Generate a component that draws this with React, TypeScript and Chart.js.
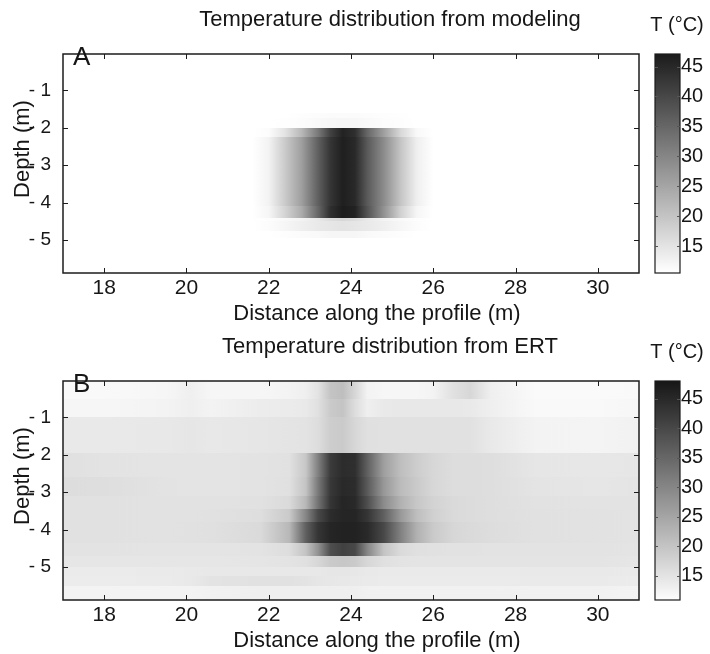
import React, { useEffect, useRef } from 'react';
import { Chart, registerables } from 'chart.js';

Chart.register(...registerables);

const FONT = "'Liberation Sans', Arial, Helvetica, sans-serif";

// ---- axis ticks / labels ----
const xTicks = [18, 20, 22, 24, 26, 28, 30];
const depthTicks = [-5, -4, -3, -2, -1];
const tempTicks = [15, 20, 25, 30, 35, 40, 45];

const titleA = 'Temperature distribution from modeling';
const titleB = 'Temperature distribution from ERT';
const xLabel = 'Distance along the profile (m)';
const yLabel = 'Depth (m)';
const cbLabel = 'T (°C)';

// colour map range (°C): white -> black
const CMAP_MIN = 10.5;
const CMAP_MAX = 47.5;

// ---- Panel A: modelled temperature ----
// column positions along the profile (m)
const colsA = [17, 21.6, 22.0, 22.4, 22.8, 23.2, 23.5, 23.8, 24.1, 24.4, 24.8, 25.2, 25.6, 26.0, 31];
// depth band edges (m)
const edgesA = [0, 1.6, 1.75, 2.0, 2.25, 4.1, 4.4, 4.5, 4.75, 4.95, 5.95];
// temperature (°C) per depth band, per column
const tempsA = [
  [10.5, 10.5, 10.5, 10.5, 10.5, 10.5, 10.5, 10.5, 10.5, 10.5, 10.5, 10.5, 10.5, 10.5, 10.5],
  [10.5, 10.5, 10.5, 10.5, 10.8, 11.0, 11.2, 11.2, 11.2, 11.0, 10.8, 10.6, 10.5, 10.5, 10.5],
  [10.5, 10.5, 10.5, 10.6, 11.0, 11.5, 11.8, 12.0, 11.8, 11.5, 11.0, 10.8, 10.5, 10.5, 10.5],
  [10.5, 10.5, 11.0, 15.0, 22.0, 32.0, 41.0, 46.0, 44.0, 35.0, 26.0, 17.0, 11.5, 10.5, 10.5],
  [10.5, 10.5, 12.5, 19.0, 26.0, 36.0, 43.0, 46.5, 45.0, 37.0, 29.0, 20.0, 13.0, 10.5, 10.5],
  [10.5, 10.5, 12.0, 17.5, 24.0, 35.0, 44.0, 47.0, 46.0, 38.0, 28.0, 18.0, 12.0, 10.5, 10.5],
  [10.5, 10.5, 10.8, 11.5, 12.5, 14.0, 16.0, 17.0, 16.0, 14.0, 12.5, 11.5, 10.8, 10.5, 10.5],
  [10.5, 10.5, 11.0, 12.0, 13.0, 14.0, 14.5, 15.0, 14.5, 14.0, 13.0, 12.0, 11.0, 10.5, 10.5],
  [10.5, 10.5, 10.5, 10.8, 11.2, 11.5, 12.0, 12.0, 12.0, 11.5, 11.2, 10.8, 10.5, 10.5, 10.5],
  [10.5, 10.5, 10.5, 10.5, 10.5, 10.5, 10.5, 10.5, 10.5, 10.5, 10.5, 10.5, 10.5, 10.5, 10.5],
];

// ---- Panel B: temperature from ERT ----
const colsB = [17, 18, 19.5, 20.1, 20.6, 21.8, 22.5, 22.9, 23.2, 23.5, 23.8, 24.1, 24.4, 24.8, 25.2, 25.6, 26.0, 26.5, 26.9, 27.4, 28.5, 30, 31];
const edgesB = [0, 0.5, 1.0, 1.95, 2.6, 3.1, 3.45, 3.8, 4.35, 4.7, 5.0, 5.25, 5.5, 5.95];
const tempsB = [
  [11.5, 11.5, 12.0, 13.0, 12.0, 12.0, 12.5, 13.0, 15.0, 20.0, 21.0, 17.0, 12.5, 12.0, 12.0, 12.0, 12.5, 15.5, 17.0, 13.0, 11.3, 11.3, 11.5],
  [12.0, 12.0, 12.5, 13.0, 12.5, 13.5, 13.7, 14.0, 15.5, 19.0, 20.0, 16.0, 13.0, 14.0, 14.2, 14.2, 14.2, 14.2, 14.0, 13.0, 11.5, 11.5, 12.0],
  [14.0, 14.0, 14.2, 14.5, 14.2, 14.5, 14.8, 15.0, 16.0, 18.5, 19.0, 17.0, 15.5, 15.3, 15.3, 15.3, 15.3, 15.3, 15.3, 14.0, 12.5, 12.3, 12.8],
  [15.5, 15.0, 14.8, 14.8, 14.8, 15.0, 15.3, 19.5, 31.0, 42.0, 44.5, 44.0, 36.0, 26.0, 21.0, 18.5, 17.0, 16.0, 16.0, 15.8, 14.5, 14.3, 14.5],
  [16.0, 15.8, 15.0, 14.8, 14.8, 15.0, 15.5, 20.0, 32.0, 42.5, 45.0, 44.5, 37.0, 27.0, 21.5, 19.0, 17.0, 16.0, 16.0, 15.8, 14.8, 14.5, 14.8],
  [15.3, 15.3, 15.2, 15.2, 15.2, 15.3, 16.5, 22.0, 33.0, 43.0, 45.5, 45.0, 39.0, 29.0, 23.0, 19.5, 17.5, 16.5, 16.2, 15.8, 15.2, 15.0, 15.0],
  [15.3, 15.3, 15.2, 15.2, 15.3, 15.8, 19.0, 30.0, 40.0, 44.5, 45.5, 45.5, 43.0, 36.0, 27.0, 21.0, 18.0, 16.5, 16.2, 15.8, 15.3, 15.2, 15.0],
  [15.3, 15.3, 15.2, 15.3, 15.5, 16.5, 22.0, 36.0, 43.0, 45.5, 46.0, 46.0, 45.0, 40.0, 31.0, 23.0, 19.0, 17.0, 16.5, 16.0, 15.3, 15.2, 15.0],
  [15.0, 15.0, 14.8, 14.8, 14.8, 15.0, 16.0, 20.0, 28.0, 39.0, 41.0, 40.0, 30.0, 20.0, 16.5, 15.5, 15.3, 15.2, 15.2, 15.0, 15.0, 15.0, 14.8],
  [14.5, 14.5, 14.5, 14.5, 14.5, 14.7, 15.0, 15.5, 17.0, 19.0, 19.5, 19.0, 17.0, 15.5, 15.0, 14.8, 14.8, 14.8, 14.8, 14.8, 14.8, 14.8, 14.5],
  [13.7, 13.7, 13.8, 14.0, 14.2, 14.2, 14.2, 14.2, 14.2, 14.5, 14.5, 14.3, 14.0, 13.8, 13.8, 13.8, 13.8, 13.8, 13.8, 13.8, 14.0, 14.0, 13.8],
  [13.5, 13.5, 13.7, 14.0, 15.0, 15.3, 15.3, 15.0, 14.5, 14.3, 14.2, 14.0, 13.8, 13.7, 13.7, 13.7, 13.7, 13.7, 13.7, 13.7, 13.8, 13.8, 13.5],
  [12.5, 12.5, 12.5, 12.5, 12.8, 13.0, 13.0, 13.0, 13.0, 13.0, 13.0, 13.0, 12.8, 12.8, 12.8, 12.8, 12.8, 12.8, 12.8, 12.8, 12.8, 12.8, 12.5],
];

function gray(T: number): string {
  const t = (T - CMAP_MIN) / (CMAP_MAX - CMAP_MIN);
  const v = Math.round(Math.max(22, Math.min(255, 255 - t * 230)));
  return `rgb(${v},${v},${v})`;
}

type PanelProps = {
  title: string;
  letter: string;
  cols: number[];
  edges: number[];
  temps: number[][];
  cbMin: number;
  cbMax: number;
};

const W = 710;
const H = 327;

function Panel(props: PanelProps) {
  const ref = useRef<HTMLCanvasElement | null>(null);

  useEffect(() => {
    const canvas = ref.current;
    if (!canvas) return;
    const { title, letter, cols, edges, temps, cbMin, cbMax } = props;

    const heatmap = {
      id: 'heatmap',
      beforeDatasetsDraw(chart: any) {
        const { ctx, chartArea: a } = chart;
        const xs = chart.scales.x;
        const ys = chart.scales.y;
        const x0 = xs.getPixelForValue(cols[0]);
        const x1 = xs.getPixelForValue(cols[cols.length - 1]);
        ctx.save();
        ctx.beginPath();
        ctx.rect(a.left, a.top, a.right - a.left, a.bottom - a.top);
        ctx.clip();
        for (let r = 0; r < temps.length; r++) {
          const yTop = Math.round(ys.getPixelForValue(-edges[r]));
          const yBot = Math.round(ys.getPixelForValue(-edges[r + 1]));
          const g = ctx.createLinearGradient(x0, 0, x1, 0);
          cols.forEach((c, i) => {
            g.addColorStop((xs.getPixelForValue(c) - x0) / (x1 - x0), gray(temps[r][i]));
          });
          ctx.fillStyle = g;
          ctx.fillRect(x0, yTop, x1 - x0, yBot - yTop);
        }
        ctx.restore();
      },
    };

    const overlay = {
      id: 'overlay',
      afterDraw(chart: any) {
        const { ctx, chartArea: a } = chart;
        const xs = chart.scales.x;
        const ys = chart.scales.y;
        const cb = chart.scales.cb;
        ctx.save();
        // frame
        ctx.strokeStyle = '#1c1c1c';
        ctx.lineWidth = 1.5;
        ctx.strokeRect(a.left, a.top, a.right - a.left, a.bottom - a.top);
        // inward tick marks
        ctx.lineWidth = 1;
        ctx.beginPath();
        for (const v of xTicks) {
          const px = Math.round(xs.getPixelForValue(v)) + 0.5;
          ctx.moveTo(px, a.bottom);
          ctx.lineTo(px, a.bottom - 5);
          ctx.moveTo(px, a.top);
          ctx.lineTo(px, a.top + 5);
        }
        for (const v of depthTicks) {
          const py = Math.round(ys.getPixelForValue(v)) + 0.5;
          ctx.moveTo(a.left, py);
          ctx.lineTo(a.left + 5, py);
          ctx.moveTo(a.right, py);
          ctx.lineTo(a.right - 5, py);
        }
        ctx.stroke();
        // colour bar
        const bx = cb.left + 16;
        const bw = 25;
        const bt = cb.getPixelForValue(cb.max);
        const bb = cb.getPixelForValue(cb.min);
        const g = ctx.createLinearGradient(0, bb, 0, bt);
        const n = 24;
        for (let i = 0; i <= n; i++) {
          const T = cb.min + ((cb.max - cb.min) * i) / n;
          g.addColorStop(i / n, gray(T));
        }
        ctx.fillStyle = g;
        ctx.fillRect(bx, bt, bw, bb - bt);
        ctx.lineWidth = 1.2;
        ctx.strokeRect(bx, bt, bw, bb - bt);
        ctx.lineWidth = 1;
        ctx.strokeStyle = '#555';
        ctx.beginPath();
        for (const v of tempTicks) {
          const py = Math.round(cb.getPixelForValue(v)) + 0.5;
          ctx.moveTo(bx, py);
          ctx.lineTo(bx + 3, py);
          ctx.moveTo(bx + bw, py);
          ctx.lineTo(bx + bw - 3, py);
        }
        ctx.stroke();
        // texts
        ctx.fillStyle = '#161616';
        ctx.textBaseline = 'alphabetic';
        ctx.textAlign = 'center';
        ctx.font = `22px ${FONT}`;
        ctx.fillText(title, 390, 26);
        ctx.fillText(xLabel, 377, 320);
        ctx.save();
        ctx.translate(23, 149);
        ctx.rotate(-Math.PI / 2);
        ctx.textBaseline = 'middle';
        ctx.fillText(yLabel, 0, 0);
        ctx.restore();
        ctx.font = `20px ${FONT}`;
        ctx.fillText(cbLabel, 677, 31);
        ctx.textAlign = 'left';
        ctx.font = `26px ${FONT}`;
        ctx.fillText(letter, 73, 65);
        ctx.restore();
      },
    };

    const chart = new Chart(canvas, {
      type: 'scatter',
      data: { datasets: [] },
      options: {
        animation: false,
        responsive: false,
        events: [],
        layout: { padding: { left: 10, top: 41, right: 0, bottom: 0 } },
        plugins: {
          legend: { display: false },
          tooltip: { enabled: false },
          title: { display: false },
        },
        scales: {
          x: {
            type: 'linear',
            position: 'bottom',
            min: 17,
            max: 31,
            grid: { display: false, drawTicks: false },
            border: { display: false },
            ticks: { color: '#161616', font: { family: FONT, size: 21 }, padding: 3 },
            afterBuildTicks: (s: any) => {
              s.ticks = xTicks.map((v) => ({ value: v }));
            },
            afterFit: (s: any) => {
              s.height = 51;
            },
          },
          y: {
            type: 'linear',
            position: 'left',
            min: -5.88,
            max: -0.03,
            grid: { display: false, drawTicks: false },
            border: { display: false },
            ticks: {
              color: '#161616',
              font: { family: FONT, size: 19 },
              padding: 12,
              callback: (v: any) => '- ' + Math.abs(Number(v)),
            },
            afterBuildTicks: (s: any) => {
              s.ticks = depthTicks.map((v) => ({ value: v }));
            },
            afterFit: (s: any) => {
              s.width = 53;
            },
          },
          cb: {
            type: 'linear',
            position: 'right',
            min: cbMin,
            max: cbMax,
            grid: { display: false, drawTicks: false },
            border: { display: false },
            ticks: { color: '#161616', font: { family: FONT, size: 20 }, padding: 42 },
            afterBuildTicks: (s: any) => {
              s.ticks = tempTicks.map((v) => ({ value: v }));
            },
            afterFit: (s: any) => {
              s.width = 71;
            },
          },
        },
      } as any,
      plugins: [heatmap, overlay],
    });
    return () => chart.destroy();
  }, []);

  return <canvas ref={ref} width={W} height={H} style={{ display: 'block', width: W, height: H }} />;
}

export default function App() {
  useEffect(() => {
    document.body.style.margin = '0';
    document.body.style.background = '#fff';
  }, []);
  return (
    <div style={{ width: W, height: 2 * H, background: '#fff', overflow: 'hidden' }}>
      <Panel title={titleA} letter="A" cols={colsA} edges={edgesA} temps={tempsA} cbMin={10.5} cbMax={47.1} />
      <Panel title={titleB} letter="B" cols={colsB} edges={edgesB} temps={tempsB} cbMin={10.9} cbMax={48.0} />
    </div>
  );
}
